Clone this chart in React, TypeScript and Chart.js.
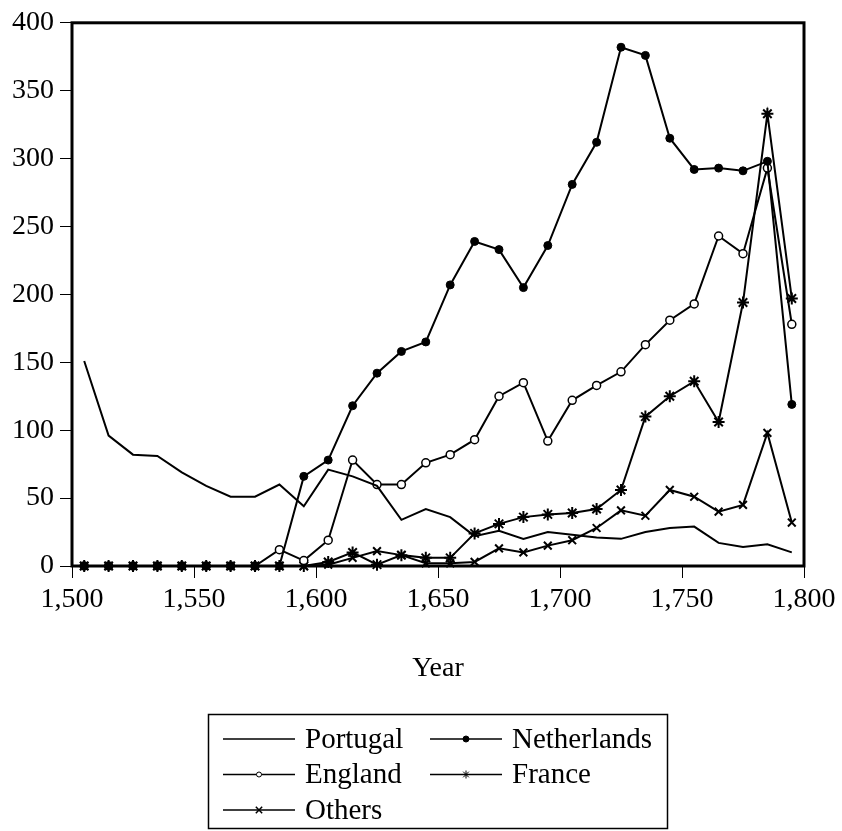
import React, { useEffect, useRef } from "react";
import { Chart, registerables } from "chart.js";
import { drawPoint } from "chart.js/helpers";

Chart.register(...registerables);

const years = [
  1505, 1515, 1525, 1535, 1545, 1555, 1565, 1575, 1585, 1595,
  1605, 1615, 1625, 1635, 1645, 1655, 1665, 1675, 1685, 1695,
  1705, 1715, 1725, 1735, 1745, 1755, 1765, 1775, 1785, 1795,
];

const portugal = [
  151, 96, 82, 81, 69, 59, 51, 51, 60, 44,
  71, 66, 59, 34, 42, 36, 22, 26, 20, 25,
  23, 21, 20, 25, 28, 29, 17, 14, 16, 10,
];
const netherlands = [
  0, 0, 0, 0, 0, 0, 0, 0, 0, 66,
  78, 118, 142, 158, 165, 207, 239, 233, 205, 236,
  281, 312, 382, 376, 315, 292, 293, 291, 298, 119,
];
const england = [
  0, 0, 0, 0, 0, 0, 0, 0, 12, 4,
  19, 78, 60, 60, 76, 82, 93, 125, 135, 92,
  122, 133, 143, 163, 181, 193, 243, 230, 293, 178,
];
const france = [
  0, 0, 0, 0, 0, 0, 0, 0, 0, 0,
  3, 10, 1, 8, 6, 6, 24, 31, 36, 38,
  39, 42, 56, 110, 125, 136, 106, 194, 333, 197,
];
const others = [
  0, 0, 0, 0, 0, 0, 0, 0, 0, 0,
  1, 6, 11, 8, 2, 2, 3, 13, 10, 15,
  19, 28, 41, 37, 56, 51, 40, 45, 98, 32,
];

const seriesNames = ["Portugal", "Netherlands", "England", "France", "Others"];
const xTicks = [1500, 1550, 1600, 1650, 1700, 1750, 1800];
const yTicks = [0, 50, 100, 150, 200, 250, 300, 350, 400];

const FONT = "'Liberation Serif', 'Times New Roman', serif";

const toPoints = (vals: number[]) => vals.map((v, i) => ({ x: years[i], y: v }));

const frameBox = {
  id: "frameBox",
  beforeDatasetsDraw(chart: any) {
    const { ctx, chartArea } = chart;
    ctx.save();
    ctx.strokeStyle = "#000";
    ctx.lineWidth = 3;
    ctx.strokeRect(
      chartArea.left,
      chartArea.top,
      chartArea.right - chartArea.left,
      chartArea.bottom - chartArea.top
    );
    ctx.restore();
  },
};

const boxLegend = {
  id: "boxLegend",
  afterDraw(chart: any) {
    const ctx = chart.ctx;
    ctx.save();
    ctx.strokeStyle = "#000";
    ctx.lineWidth = 1.5;
    ctx.strokeRect(208.5, 714.5, 459, 114);
    ctx.font = `29px ${FONT}`;
    ctx.textBaseline = "middle";
    ctx.textAlign = "left";
    chart.data.datasets.forEach((ds: any, i: number) => {
      const col = i % 2;
      const row = Math.floor(i / 2);
      const x0 = col ? 430 : 223;
      const y = 739 + row * 35.5;
      ctx.strokeStyle = "#000";
      ctx.lineWidth = 1.5;
      ctx.beginPath();
      ctx.moveTo(x0, y);
      ctx.lineTo(x0 + 72, y);
      ctx.stroke();
      if (ds.legendRadius > 0) {
        ctx.fillStyle = ds.pointBackgroundColor;
        ctx.strokeStyle = "#000";
        ctx.lineWidth = ds.legendBorder;
        drawPoint(
          ctx,
          {
            pointStyle: ds.pointStyle,
            radius: ds.legendRadius,
            borderWidth: ds.legendBorder,
            rotation: 0,
          } as any,
          x0 + 36,
          y
        );
      }
      ctx.fillStyle = "#000";
      ctx.fillText(ds.label, x0 + 82, y + 1);
    });
    ctx.restore();
  },
};

export default function App() {
  const ref = useRef<HTMLCanvasElement | null>(null);

  useEffect(() => {
    if (!ref.current) return;
    const common = {
      borderColor: "#000",
      borderWidth: 2,
      tension: 0,
      pointBorderColor: "#000",
    };
    const chart = new Chart(ref.current, {
      type: "line",
      data: {
        datasets: [
          {
            ...common,
            label: seriesNames[0],
            data: toPoints(portugal),
            pointRadius: 0,
            pointStyle: "circle",
            pointBackgroundColor: "#000",
            legendRadius: 0,
            legendBorder: 0,
          } as any,
          {
            ...common,
            label: seriesNames[1],
            data: toPoints(netherlands),
            pointRadius: 4,
            pointStyle: "circle",
            pointBackgroundColor: "#000",
            pointBorderWidth: 1,
            legendRadius: 3,
            legendBorder: 1,
          } as any,
          {
            ...common,
            label: seriesNames[2],
            data: toPoints(england),
            pointRadius: 4,
            pointStyle: "circle",
            pointBackgroundColor: "#fff",
            pointBorderWidth: 1.5,
            legendRadius: 2.5,
            legendBorder: 1,
          } as any,
          {
            ...common,
            label: seriesNames[3],
            data: toPoints(france),
            pointRadius: 6,
            pointStyle: "star",
            pointBackgroundColor: "#000",
            pointBorderWidth: 2,
            legendRadius: 4,
            legendBorder: 1,
          } as any,
          {
            ...common,
            label: seriesNames[4],
            data: toPoints(others),
            pointRadius: 5.5,
            pointStyle: "crossRot",
            pointBackgroundColor: "#000",
            pointBorderWidth: 2,
            legendRadius: 4.5,
            legendBorder: 1.5,
          } as any,
        ],
      },
      options: {
        responsive: false,
        animation: false,
        devicePixelRatio: 1,
        layout: { padding: { left: 0, top: 17, right: 38, bottom: 146 } },
        plugins: {
          legend: { display: false },
          tooltip: { enabled: false },
        },
        datasets: { line: { clip: false as any } },
        scales: {
          x: {
            type: "linear",
            min: 1500,
            max: 1800,
            afterFit: (s: any) => {
              s.height = 119;
            },
            afterBuildTicks: (s: any) => {
              s.ticks = xTicks.map((v) => ({ value: v }));
            },
            ticks: {
              color: "#000",
              font: { family: FONT, size: 28 },
              padding: 5,
              maxRotation: 0,
              autoSkip: false,
              callback: (v: any) => Number(v).toLocaleString("en-US"),
            },
            grid: {
              drawOnChartArea: false,
              drawTicks: true,
              tickLength: 12,
              color: "#000",
              lineWidth: 1,
            },
            border: { display: false },
            title: {
              display: true,
              text: "Year",
              color: "#000",
              font: { family: FONT, size: 28 },
              padding: { top: 0, bottom: 0 },
            },
          },
          y: {
            min: 0,
            max: 400,
            afterFit: (s: any) => {
              s.width = 72;
            },
            afterBuildTicks: (s: any) => {
              s.ticks = yTicks.map((v) => ({ value: v }));
            },
            ticks: {
              color: "#000",
              font: { family: FONT, size: 28 },
              padding: 6,
              autoSkip: false,
              callback: (v: any) => String(v),
            },
            grid: {
              drawOnChartArea: false,
              drawTicks: true,
              tickLength: 12,
              color: "#000",
              lineWidth: 1,
            },
            border: { display: false },
          },
        },
      },
      plugins: [frameBox, boxLegend],
    });
    return () => chart.destroy();
  }, []);

  return (
    <div style={{ position: "absolute", left: 0, top: 0, width: 842, height: 831, background: "#fff" }}>
      <canvas ref={ref} width={842} height={831} style={{ display: "block" }} />
    </div>
  );
}
